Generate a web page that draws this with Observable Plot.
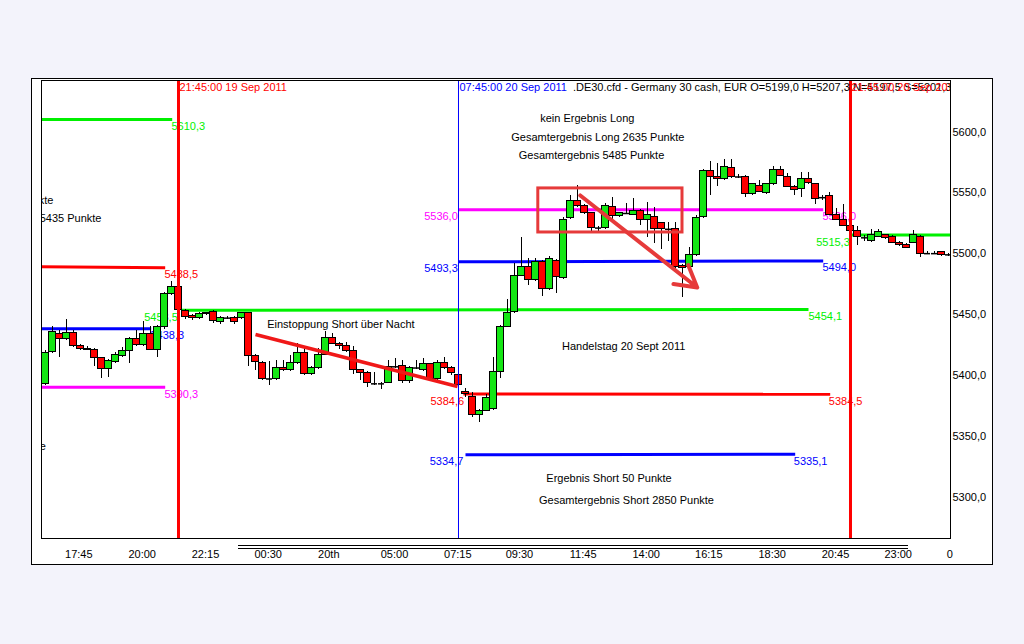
<!DOCTYPE html>
<html><head><meta charset="utf-8">
<script src="https://cdn.jsdelivr.net/npm/d3@7"></script>
<script src="https://cdn.jsdelivr.net/npm/@observablehq/plot@0.6"></script>
<style>
html,body{margin:0;padding:0;background:#f3f3fb;width:1024px;height:644px;overflow:hidden;font-family:"Liberation Sans",Arial,sans-serif;}
#frame{position:absolute;left:31px;top:78px;width:960px;height:485px;background:#fff;border:1px solid #000;}
#scroll{position:absolute;left:238px;top:545px;width:670px;height:2px;border-top:1px solid #000;border-bottom:1px solid #000;}
#chart{position:absolute;left:0;top:0;}
</style></head><body>
<div id="frame"></div><div id="scroll"></div><div id="chart"></div>
<script>
// 15-minute candles, index 0 = first visible bar (19 Sep 2011, ~17:15)
const opens = [5393,5419,5434,5430,5435,5424,5422,5421,5414,5405,5411,5416,5420,5430,5425,5434,5421,5440,5467,5473,
5453,5449,5447,5450,5452,5444,5447,5447,5447,5451,5416,5410,5397,5397,5406,5404,5410,5418,5401,5406,
5417,5431,5426,5424,5420,5404,5402,5393,5393,5394,5407,5408,5395,5406,5404,5409,5397,5410,5406,5400,
5386,5382,5367,5371,5372,5403,5440,5452,5482,5489,5478,5493,5471,5494,5480,5529,5543,5539,5533,5521,
5521,5538,5531,5533,5532,5535,5528,5530,5525,5520,5520,5490,5489,5499,5530,5568,5563,5561,5570,5563,
5563,5549,5556,5550,5557,5569,5563,5555,5553,5561,5557,5546,5547,5532,5528,5523,5519,5513,5510,5514,
5515,5514,5509,5507,5509,5514,5500,5500,5501,5499];
const highs = [5420,5440,5437,5446,5437,5425,5424,5422,5415,5413,5419,5423,5431,5437,5444,5440,5441,5468,5477,5477,
5454,5450,5452,5452,5453,5448,5448,5448,5452,5452,5417,5411,5411,5412,5412,5416,5426,5422,5407,5422,
5436,5434,5427,5427,5424,5405,5403,5402,5394,5412,5414,5412,5407,5412,5414,5410,5412,5415,5407,5402,
5389,5386,5372,5384,5415,5441,5462,5492,5513,5496,5496,5494,5498,5495,5530,5548,5556,5540,5534,5522,
5541,5546,5534,5541,5545,5536,5542,5538,5526,5526,5526,5491,5505,5531,5569,5576,5574,5577,5577,5565,
5564,5558,5560,5558,5572,5572,5566,5556,5567,5567,5558,5548,5550,5537,5540,5528,5522,5515,5520,5520,
5516,5515,5510,5508,5519,5515,5502,5502,5502,5500];
const lows = [5392,5418,5415,5429,5423,5420,5420,5407,5397,5398,5410,5415,5410,5424,5424,5420,5415,5438,5466,5453,
5446,5445,5446,5449,5443,5442,5446,5442,5446,5407,5404,5396,5392,5396,5403,5403,5409,5400,5400,5405,
5416,5425,5421,5419,5401,5396,5390,5392,5388,5393,5406,5393,5393,5405,5403,5396,5396,5405,5400,5391,
5382,5365,5361,5370,5371,5397,5439,5451,5481,5474,5477,5465,5470,5467,5479,5528,5538,5532,5517,5517,
5520,5528,5530,5532,5531,5523,5513,5508,5503,5510,5486,5464,5488,5498,5529,5548,5555,5560,5562,5562,
5546,5548,5550,5549,5556,5563,5554,5548,5546,5557,5540,5544,5531,5527,5522,5512,5507,5510,5509,5513,
5512,5508,5506,5504,5508,5497,5499,5499,5498,5498];
const closes = [5418,5436,5430,5435,5424,5422,5421,5414,5405,5412,5417,5420,5430,5425,5434,5421,5440,5467,5473,5454,
5448,5447,5450,5451,5445,5447,5447,5444,5451,5416,5411,5397,5397,5406,5404,5410,5418,5401,5406,5417,
5431,5426,5424,5420,5404,5402,5394,5393,5393,5407,5407,5395,5406,5406,5409,5397,5410,5406,5402,5392,
5385,5367,5371,5381,5403,5440,5451,5482,5489,5478,5493,5471,5496,5481,5528,5543,5539,5533,5521,5521,
5539,5531,5533,5533,5535,5528,5532,5520,5520,5520,5489,5488,5499,5529,5568,5563,5561,5571,5563,5563,
5549,5557,5551,5557,5569,5564,5555,5552,5561,5558,5545,5546,5532,5528,5523,5519,5514,5513,5515,5518,
5513,5509,5507,5505,5515,5500,5500,5500,5499,5499];

// y axis ticks
const yTicks = [5300, 5350, 5400, 5450, 5500, 5550, 5600];
// x axis tick labels (positions in bar index units)
const xTickPos = [4.76, 13.81, 22.86, 31.81, 40.47, 49.86, 58.9, 67.71, 76.81, 85.81, 94.76, 103.81, 112.86, 121.81, 129.2];
const xTickLabels = ["17:45","20:00","22:15","00:30","20th","05:00","07:15","09:30","11:45","14:00","16:15","18:30","20:45","23:00","0"];

// price level lines (start bar, end bar, start price, end price, kind)
const levelStart = [-0.6, -0.6, -0.6, -0.6, 19.4, 59, 59, 59.7, 60, 115];
const levelEnd   = [18.1, 17.1, 15.1, 17.1, 109, 111.1, 111.1, 112.1, 107.1, 129.3];
const levelFrom  = [5610.3, 5489.3, 5438.3, 5390.3, 5453.5, 5536.0, 5493.3, 5384.6, 5334.7, 5515.3];
const levelTo    = [5610.3, 5488.5, 5438.3, 5390.3, 5454.1, 5536.0, 5494.0, 5384.5, 5335.1, 5515.3];
const levelKind  = ["green","red","blue","magenta","green","magenta","blue","red","blue","green"];

// price labels at the level lines
const levelLabelText = ["5610,3","5488,5","5438,3","5390,3","5453,5","5454,1","5536,0","5536,0","5493,3","5494,0","5384,6","5384,5","5334,7","5335,1","5515,3"];
const levelLabelX    = [18, 17, 15, 17, 18.9, 109, 58.9, 111, 58.9, 111, 59.8, 111.9, 59.7, 106.9, 114.9];
const levelLabelY    = [5610.3, 5488.5, 5438.3, 5390.3, 5453.5, 5454.1, 5536.0, 5536.0, 5493.3, 5494.0, 5384.6, 5384.5, 5334.7, 5335.1, 5515.3];
const levelLabelSide = ["start","start","start","start","end","start","end","start","end","start","end","start","end","start","end"];
const levelLabelKind = ["green","red","blue","magenta","green","green","magenta","magenta","blue","blue","red","red","blue","blue","green"];

// text notes
const noteText = ["kein Ergebnis Long","Gesamtergebnis Long 2635 Punkte","Gesamtergebnis 5485 Punkte","Einstoppung Short über Nacht","Handelstag 20 Sept 2011","Ergebnis Short 50 Punkte","Gesamtergebnis Short 2850 Punkte"];
const noteX = [77.4, 78.9, 78.0, 42.2, 82.6, 80.5, 83.0];
const noteY = [5611.1, 5595.5, 5580.7, 5441.8, 5423.7, 5315.2, 5297.1];
// notes from the previous day, cut by the left edge
const cutNoteText = ["Gesamtergebnis Long 2635 Punkte","Gesamtergebnis 5435 Punkte","Gesamtergebnis Short 2850 Punkte"];
const cutNoteX = [1.14, 8.0, 0.07];
const cutNoteY = [5543.7, 5528.9, 5341.5];

// session separators and header
const sepX = [19, 59, 115];
const sepKind = ["red","blue","red"];
const headerText = [".DE30.cfd - Germany 30 cash, EUR O=5199,0 H=5207,3 N=5197,5 S=5201,3","21:45:00 19 Sep 2011","07:45:00 20 Sep 2011","21:45:00 20 Sep 2011"];
const headerX = [75.2, 19, 59, 115];
const headerKind = ["black","red","blue","red"];
const headerY = 5636.6;

// drawn objects
const trendLine = {x1: 30, y1: 5433.6, x2: 58.86, y2: 5390.8};
const boxZone = {x1: 70.4, x2: 91.0, y1: 5517.4, y2: 5553.6};
const arrowDown = {x1: 76.4, y1: 5547.8, x2: 93.1, y2: 5472.2};

const COLORS = {green: "#00f000", red: "#ff0000", blue: "#0000ff", magenta: "#ff00ff", black: "#000000"};
const UP = "#14e614", DOWN = "#ff0000", DRAW = "#e63a3a";

const candles = opens.map((o, i) => ({i, open: o, high: highs[i], low: lows[i], close: closes[i]}));
const levels = levelStart.map((s, k) => ({x1: s, x2: levelEnd[k], y1: levelFrom[k], y2: levelTo[k], c: COLORS[levelKind[k]]}));
const lLabels = levelLabelText.map((t, k) => ({t, x: levelLabelX[k], y: levelLabelY[k], side: levelLabelSide[k], c: COLORS[levelLabelKind[k]]}));
const notes = noteText.map((t, k) => ({t, x: noteX[k], y: noteY[k]}));
const cutNotes = cutNoteText.map((t, k) => ({t, x: cutNoteX[k], y: cutNoteY[k]}));
const seps = sepX.map((x, k) => ({x, c: COLORS[sepKind[k]], w: sepKind[k] === "red" ? 3 : 1}));
const headers = headerText.map((t, k) => ({t, x: headerX[k], y: headerY, c: COLORS[headerKind[k]]}));
const tickLabel = new Map(xTickPos.map((p, k) => [p, xTickLabels[k]]));
const bw = 0.43;

const chart = Plot.plot({
  width: 1024, height: 644,
  marginTop: 80, marginBottom: 106, marginLeft: 41, marginRight: 74,
  style: {background: "transparent", fontFamily: "Liberation Sans, Arial, sans-serif", fontSize: "11px", color: "black"},
  color: {type: "identity"},
  x: {type: "linear", domain: [-0.571, 129.286], axis: "bottom", ticks: xTickPos, tickSize: 0, tickPadding: 12, tickFormat: d => tickLabel.get(d), label: null},
  y: {domain: [5265.9, 5642.3], axis: "right", ticks: yTicks, tickSize: 0, tickPadding: 2, tickFormat: d => d.toFixed(1).replace(".", ","), label: null},
  marks: [
    Plot.link(levels, {x1: "x1", x2: "x2", y1: "y1", y2: "y2", stroke: d => d.c, strokeWidth: 3, clip: true}),
    Plot.text(lLabels.filter(d => d.side === "start"), {x: "x", y: "y", text: "t", fill: d => d.c, textAnchor: "start", dy: 7, fontSize: 11}),
    Plot.text(lLabels.filter(d => d.side === "end"), {x: "x", y: "y", text: "t", fill: d => d.c, textAnchor: "end", dy: 7, fontSize: 11}),
    Plot.ruleX(candles, {x: "i", y1: "low", y2: "high", stroke: "black", clip: true, shapeRendering: "crispEdges"}),
    Plot.rect(candles.filter(d => d.open !== d.close), {x1: d => d.i - bw, x2: d => d.i + bw, y1: "open", y2: "close", fill: d => d.close > d.open ? UP : DOWN, stroke: "black", clip: true, shapeRendering: "crispEdges"}),
    Plot.ruleY(candles.filter(d => d.open === d.close), {x1: d => d.i - bw, x2: d => d.i + bw, y: "open", stroke: "black", strokeWidth: 1.5, clip: true}),
    Plot.ruleX(seps, {x: "x", stroke: d => d.c, strokeWidth: d => d.w}),
    Plot.text(notes, {x: "x", y: "y", text: "t", fill: "black", fontSize: 11}),
    Plot.text(cutNotes, {x: "x", y: "y", text: "t", fill: "black", textAnchor: "end", fontSize: 11, clip: true}),
    Plot.text(headers, {x: "x", y: "y", text: "t", fill: d => d.c, textAnchor: "start", dx: 1, fontSize: 11, clip: true}),
    Plot.link([trendLine], {x1: "x1", y1: "y1", x2: "x2", y2: "y2", stroke: "#f01818", strokeWidth: 3.5}),
    Plot.rect([boxZone], {x1: "x1", x2: "x2", y1: "y1", y2: "y2", fill: "none", stroke: DRAW, strokeWidth: 3}),
    Plot.arrow([arrowDown], {x1: "x1", y1: "y1", x2: "x2", y2: "y2", stroke: DRAW, strokeWidth: 4, headLength: 9}),
    Plot.frame({stroke: "black"})
  ]
});
document.getElementById("chart").appendChild(chart);
</script></body></html>
